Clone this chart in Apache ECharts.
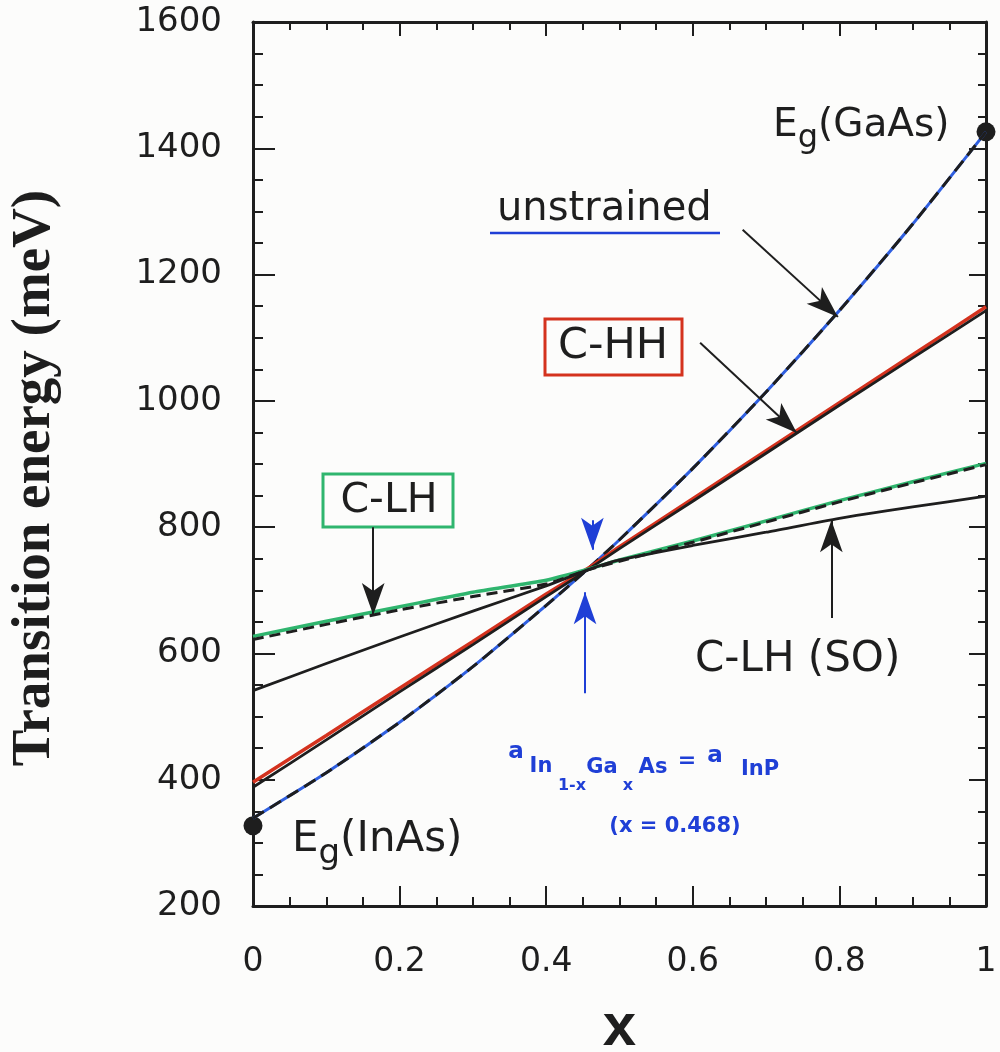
<!DOCTYPE html>
<html>
<head>
<meta charset="utf-8">
<script src="https://cdn.jsdelivr.net/npm/echarts@6/dist/echarts.min.js"></script>
<style>
  html, body { margin: 0; padding: 0; background: #fcfcfb; }
  #chart { width: 1000px; height: 1052px; }
</style>
</head>
<body>
<div id="chart"></div>
<script>
"use strict";

// composition x (In(1-x)Ga(x)As)
var xs = [0, 0.1, 0.2, 0.3, 0.4, 0.456, 0.5, 0.6, 0.7, 0.8, 0.9, 1];

// transition energies (meV)
var unstrained = [339, 411, 491, 579, 676, 733, 780, 893, 1014, 1143, 1280, 1426];
var hhRed      = [396, 470, 545, 619, 694, 734, 769, 845, 921, 997, 1073, 1149];
var hhBlack    = [388, 463, 539, 614, 690, 732, 766, 841, 917, 993, 1068, 1143];
var lhGreen    = [627, 651, 674, 697, 716, 733, 748, 778, 810, 842, 872, 901];
var lhDashed   = [622, 646, 669, 690, 710, 732, 746, 776, 808, 840, 870, 899];
var lhSO       = [541, 584, 626, 667, 707, 732, 748, 771, 792, 814, 832, 849];

// binary end points Eg(InAs), Eg(GaAs)
var gapPoints = [[0, 327], [1, 1426]];

// annotation arrows: [from, to, colour]
var arrows = [
  [[0.668, 1271], [0.798, 1133], '#1e1e1e'],
  [[0.610, 1092], [0.742, 949], '#1e1e1e'],
  [[0.164, 800], [0.164, 661], '#1e1e1e'],
  [[0.789, 656], [0.789, 811], '#1e1e1e'],
  [[0.463, 811], [0.463, 764], '#1f3fd6'],
  [[0.453, 537], [0.453, 697], '#1f3fd6']
];

var yTicks = [200, 400, 600, 800, 1000, 1200, 1400, 1600];

function pairs(ys) {
  return xs.map(function (x, i) { return [x, ys[i]]; });
}

var chart = echarts.init(document.getElementById('chart'));

var FONT = '"DejaVu Sans", sans-serif';
var INK = '#1e1e1e';
var BLUE = '#1f3fd6';

function frameAxis(extra) {
  var base = {
    axisLine: { onZero: false, lineStyle: { color: INK, width: 3 } },
    splitLine: { show: false }
  };
  return Object.assign(base, extra);
}

var option = {
  backgroundColor: '#fcfcfb',
  animation: false,
  grid: { left: 253, right: 14, top: 22, bottom: 146, containLabel: false, outerBoundsMode: 'none' },
  xAxis: [
    frameAxis({
      type: 'value', min: 0, max: 1, interval: 0.2,
      name: 'x', nameLocation: 'middle', nameGap: 92,
      nameTextStyle: { fontFamily: '"Liberation Sans", Arial, sans-serif', fontWeight: 'bold', fontSize: 60, color: INK },
      axisTick: { inside: true, length: 20, lineStyle: { color: INK, width: 2 } },
      minorTick: { show: true, splitNumber: 4, length: 9, lineStyle: { color: INK, width: 2 } },
      axisLabel: {
        margin: 40, fontFamily: FONT, fontSize: 33, color: INK,
        formatter: function (v) { return v === 0 || v === 1 ? String(v) : v.toFixed(1); }
      }
    }),
    frameAxis({
      type: 'value', min: 0, max: 1, interval: 0.2, position: 'top',
      axisTick: { inside: true, length: 14, lineStyle: { color: INK, width: 2 } },
      minorTick: { show: true, splitNumber: 4, length: 8, lineStyle: { color: INK, width: 2 } },
      axisLabel: { show: false }
    })
  ],
  yAxis: [
    frameAxis({
      type: 'value', min: 200, max: 1600, interval: 200,
      axisTick: { inside: true, length: 22, lineStyle: { color: INK, width: 2 } },
      minorTick: { show: true, splitNumber: 4, length: 10, lineStyle: { color: INK, width: 2 } },
      axisLabel: {
        margin: 31, fontFamily: FONT, fontSize: 34, color: INK,
        formatter: function (v) { return yTicks.indexOf(v) >= 0 ? String(v) : ''; }
      }
    }),
    frameAxis({
      type: 'value', min: 200, max: 1600, interval: 200, position: 'right',
      axisTick: { inside: true, length: 17, lineStyle: { color: INK, width: 2 } },
      minorTick: { show: true, splitNumber: 4, length: 8, lineStyle: { color: INK, width: 2 } },
      axisLabel: { show: false }
    })
  ],
  series: [
    {
      name: 'unstrained', type: 'line', data: pairs(unstrained), smooth: 0.2,
      symbol: 'none', lineStyle: { color: '#2f5fe0', width: 3 }
    },
    {
      name: 'unstrained (calc)', type: 'line', data: pairs(unstrained), smooth: 0.2,
      symbol: 'none', lineStyle: { color: INK, width: 3, type: [13, 7] }
    },
    {
      name: 'C-HH', type: 'line', data: pairs(hhRed), smooth: 0.2,
      symbol: 'none', lineStyle: { color: '#d4321e', width: 3.5 }
    },
    {
      name: 'C-HH (calc)', type: 'line', data: pairs(hhBlack), smooth: 0.2,
      symbol: 'none', lineStyle: { color: INK, width: 2.8 }
    },
    {
      name: 'C-LH', type: 'line', data: pairs(lhGreen), smooth: 0.2,
      symbol: 'none', lineStyle: { color: '#2fb56e', width: 3.5 }
    },
    {
      name: 'C-LH (calc)', type: 'line', data: pairs(lhDashed), smooth: 0.2,
      symbol: 'none', lineStyle: { color: INK, width: 3, type: [11, 6] }
    },
    {
      name: 'C-LH (SO)', type: 'line', data: pairs(lhSO), smooth: 0.2,
      symbol: 'none', lineStyle: { color: INK, width: 2.8 }
    },
    {
      name: 'Eg', type: 'scatter', data: gapPoints, clip: false,
      symbolSize: 19, itemStyle: { color: INK, opacity: 1 },
      markLine: {
        silent: true, animation: false,
        symbol: ['none', 'arrow'], symbolSize: [17, 32],
        label: { show: false },
        data: arrows.map(function (a) {
          return [
            { coord: a[0], lineStyle: { color: a[2], width: 2, type: 'solid' }, itemStyle: { color: a[2] } },
            { coord: a[1] }
          ];
        })
      }
    }
  ],
  graphic: [
    // y axis title
    { type: 'text', x: 35, y: 478, rotation: Math.PI / 2, style: {
        text: 'Transition energy (meV)', fontFamily: '"Liberation Serif", "Times New Roman", serif',
        fontWeight: 'bold', fontSize: 55, fill: INK, align: 'center', verticalAlign: 'middle' } },
    // unstrained label + blue underline
    { type: 'text', left: 497, top: 190, style: { text: 'unstrained', fontFamily: FONT, fontSize: 40, fill: INK } },
    { type: 'line', shape: { x1: 490, y1: 233, x2: 720, y2: 233 }, style: { stroke: BLUE, lineWidth: 2.5 } },
    // C-HH red box
    { type: 'rect', shape: { x: 545, y: 319, width: 137, height: 56 }, style: { fill: 'none', stroke: '#d4321e', lineWidth: 3 } },
    { type: 'text', x: 613, y: 347, style: { text: 'C-HH', fontFamily: FONT, fontSize: 43, fill: INK, align: 'center', verticalAlign: 'middle' } },
    // C-LH green box
    { type: 'rect', shape: { x: 323, y: 474, width: 130, height: 53 }, style: { fill: 'none', stroke: '#2fb56e', lineWidth: 3 } },
    { type: 'text', x: 389, y: 501, style: { text: 'C-LH', fontFamily: FONT, fontSize: 41, fill: INK, align: 'center', verticalAlign: 'middle' } },
    // C-LH (SO)
    { type: 'text', x: 695, y: 660, style: { text: 'C-LH (SO)', fontFamily: FONT, fontSize: 42, fill: INK, verticalAlign: 'middle' } },
    // Eg labels
    { type: 'text', x: 773, y: 126, style: {
        text: '{e|E}{g|g}{e|(GaAs)}', verticalAlign: 'middle', fill: INK,
        rich: { e: { fontFamily: FONT, fontSize: 39, fill: INK }, g: { fontFamily: FONT, fontSize: 32, fill: INK, padding: [26, 0, 0, 0] } }
    } },
    { type: 'text', x: 292, y: 840, style: {
        text: '{e|E}{g|g}{e|(InAs)}', verticalAlign: 'middle', fill: INK,
        rich: { e: { fontFamily: FONT, fontSize: 42, fill: INK }, g: { fontFamily: FONT, fontSize: 34, fill: INK, padding: [28, 0, 0, 0] } }
    } },
    // lattice matching note (blue handwriting)
    { type: 'text', x: 516, y: 752, style: { text: 'a', fontFamily: FONT, fontSize: 23, fill: BLUE, align: 'center', verticalAlign: 'middle', fontWeight: 'bold' } },
    { type: 'text', x: 541, y: 767, style: { text: 'In', fontFamily: FONT, fontSize: 21, fill: BLUE, align: 'center', verticalAlign: 'middle', fontWeight: 'bold' } },
    { type: 'text', x: 572, y: 786, style: { text: '1-x', fontFamily: FONT, fontSize: 16, fill: BLUE, align: 'center', verticalAlign: 'middle', fontWeight: 'bold' } },
    { type: 'text', x: 602, y: 768, style: { text: 'Ga', fontFamily: FONT, fontSize: 21, fill: BLUE, align: 'center', verticalAlign: 'middle', fontWeight: 'bold' } },
    { type: 'text', x: 628, y: 786, style: { text: 'x', fontFamily: FONT, fontSize: 16, fill: BLUE, align: 'center', verticalAlign: 'middle', fontWeight: 'bold' } },
    { type: 'text', x: 653, y: 768, style: { text: 'As', fontFamily: FONT, fontSize: 21, fill: BLUE, align: 'center', verticalAlign: 'middle', fontWeight: 'bold' } },
    { type: 'text', x: 687, y: 761, style: { text: '=', fontFamily: FONT, fontSize: 22, fill: BLUE, align: 'center', verticalAlign: 'middle', fontWeight: 'bold' } },
    { type: 'text', x: 715, y: 756, style: { text: 'a', fontFamily: FONT, fontSize: 23, fill: BLUE, align: 'center', verticalAlign: 'middle', fontWeight: 'bold' } },
    { type: 'text', x: 760, y: 770, style: { text: 'InP', fontFamily: FONT, fontSize: 21, fill: BLUE, align: 'center', verticalAlign: 'middle', fontWeight: 'bold' } },
    { type: 'text', x: 675, y: 827, style: { text: '(x = 0.468)', fontFamily: FONT, fontSize: 21, fill: BLUE, align: 'center', verticalAlign: 'middle', fontWeight: 'bold' } }
  ]
};

chart.setOption(option);
</script>
</body>
</html>
